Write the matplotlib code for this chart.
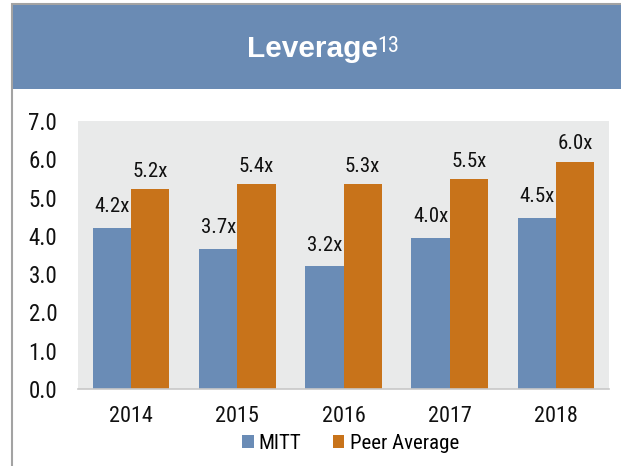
import matplotlib
matplotlib.use("Agg")
import matplotlib.pyplot as plt
from matplotlib import font_manager as fm
from matplotlib.patches import Rectangle, Patch
import numpy as np

years = ["2014", "2015", "2016", "2017", "2018"]
mitt = [4.20, 3.66, 3.20, 3.94, 4.47]
peer = [5.22, 5.35, 5.35, 5.48, 5.94]
mitt_labels = ["4.2x", "3.7x", "3.2x", "4.0x", "4.5x"]
peer_labels = ["5.2x", "5.4x", "5.3x", "5.5x", "6.0x"]

BLUE = "#6a8cb6"
ORANGE = "#c8731a"
HEADER = "#6a8bb4"
PANEL = "#e9eaea"
FRAME = "#a3a3a3"
W, H = 621, 466

# closest thing to Arial Narrow that is installed, else plain Liberation Sans
have = {f.name for f in fm.fontManager.ttflist}
narrow = [n for n in ["Liberation Sans Narrow", "Arial Narrow", "Roboto Condensed",
                      "Archivo Narrow"] if n in have]
NARROW = narrow[:1] + ["Liberation Sans", "DejaVu Sans"]

fig = plt.figure(figsize=(W / 100, H / 100), dpi=100)
fig.patch.set_facecolor("white")

# outer frame and header band
fig.add_artist(Rectangle((12 / W, -0.2), 1.2, 1.2 - 4 / H, transform=fig.transFigure,
                         facecolor="none", edgecolor=FRAME, lw=1.5))
fig.add_artist(Rectangle((13 / W, 1 - 89 / H), 1.0, 84 / H, transform=fig.transFigure,
                         facecolor=HEADER, edgecolor="none"))
fig.text(247 / W, 1 - 57 / H, "Leverage", color="white", fontsize=21.5, fontweight="bold",
         family=["Liberation Sans", "DejaVu Sans"], ha="left", va="baseline")
fig.text(377 / W, 1 - 52 / H, "13", color="white", fontsize=16,
         family=NARROW, ha="left", va="baseline")

ax = fig.add_axes([78 / W, 77 / H, 531 / W, 268 / H])
ax.set_facecolor(PANEL)
x = np.arange(len(years))
bw = 0.36
ax.bar(x - bw / 2, mitt, bw, color=BLUE, label="MITT", zorder=2)
ax.bar(x + bw / 2, peer, bw, color=ORANGE, label="Peer Average", zorder=2)

for i in range(len(years)):
    ax.annotate(mitt_labels[i], (x[i] - bw / 2, mitt[i]), xytext=(0, 11.5),
                textcoords="offset points", ha="center", va="baseline",
                fontsize=15, family=NARROW, color="#111111")
    ax.annotate(peer_labels[i], (x[i] + bw / 2, peer[i]), xytext=(0, 9),
                textcoords="offset points", ha="center", va="baseline",
                fontsize=15, family=NARROW, color="#111111")

ax.set_xlim(-0.5, 4.5)
ax.set_ylim(0, 7)
ax.set_yticks(np.arange(0, 8, 1))
ax.set_yticklabels([f"{v:.1f}" for v in range(8)], family=NARROW, fontsize=16.5)
ax.set_xticks(x)
ax.set_xticklabels(years, family=NARROW, fontsize=16)
ax.tick_params(axis="both", length=0, colors="#111111")
ax.tick_params(axis="y", pad=15)
ax.tick_params(axis="x", pad=12.5)
for s in ["top", "right", "left"]:
    ax.spines[s].set_visible(False)
ax.spines["bottom"].set_color("#c8c8c8")
ax.spines["bottom"].set_linewidth(1.2)

handles = [Patch(facecolor=BLUE, label="MITT"), Patch(facecolor=ORANGE, label="Peer Average")]
fig.legend(handles=handles, loc="center", bbox_to_anchor=(350.5 / W, 1 - 443.5 / H),
           ncol=2, frameon=False, prop={"family": NARROW, "size": 15},
           handlelength=0.55, handleheight=0.55, handletextpad=0.25, columnspacing=1.5,
           borderpad=0, borderaxespad=0)

fig.savefig("out.png", dpi=100)
